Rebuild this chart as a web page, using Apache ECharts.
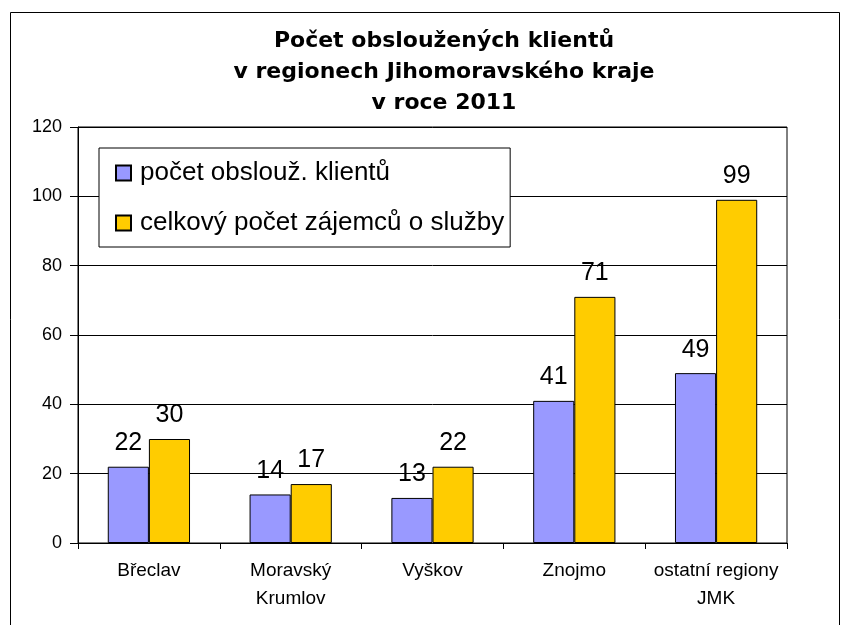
<!DOCTYPE html>
<html>
<head>
<meta charset="utf-8">
<script src="https://cdn.jsdelivr.net/npm/echarts@6/dist/echarts.min.js"></script>
<style>
html,body{margin:0;padding:0;background:#fff;}
#chart{width:843px;height:625px;}
</style>
</head>
<body>
<div id="chart"></div>
<script>
const categories = ["Břeclav", "Moravský\nKrumlov", "Vyškov", "Znojmo", "ostatní regiony\nJMK"];
const servedClients = [22, 14, 13, 41, 49];
const totalApplicants = [30, 17, 22, 71, 99];
const seriesNames = ["počet obslouž. klientů", "celkový počet zájemců o služby"];
const titleText = "Počet obsloužených klientů\nv regionech Jihomoravského kraje\nv roce 2011";
const yMin = 0, yMax = 120, yStep = 20;

const FONT = "'Liberation Sans', Arial, sans-serif";
const chart = echarts.init(document.getElementById('chart'), null, {renderer: 'canvas'});

const labelStyle = {
  show: true, position: 'top', distance: 11,
  color: '#000', fontSize: 25, fontFamily: FONT
};

chart.setOption({
  backgroundColor: '#fff',
  animation: false,
  graphic: [{
    type: 'rect', left: 8, top: 10, silent: true, z: -1,
    shape: {width: 829, height: 650},
    style: {fill: 'none', stroke: '#000', lineWidth: 1}
  }],
  title: {
    text: titleText, left: 439, top: 21, textAlign: 'center',
    textStyle: {fontFamily: "'DejaVu Sans', sans-serif", fontWeight: 'bold', fontSize: 22, lineHeight: 31, color: '#000'}
  },
  legend: {
    orient: 'vertical', left: 99, top: 148,
    backgroundColor: '#fff', borderColor: '#000', borderWidth: 1,
    padding: [12, 6, 11, 16],
    itemWidth: 15, itemHeight: 15, itemGap: 24,
    icon: 'rect',
    textStyle: {fontFamily: FONT, fontSize: 26, color: '#000', padding: [0, 0, 0, 4]},
    data: seriesNames
  },
  grid: {
    left: 78, right: 56, top: 127, bottom: 82,
    show: true, borderColor: '#000', borderWidth: 1, backgroundColor: 'transparent'
  },
  xAxis: {
    type: 'category', data: categories,
    axisLine: {lineStyle: {color: '#000', width: 1}},
    axisTick: {show: true, length: 6, lineStyle: {color: '#000'}},
    axisLabel: {interval: 0, color: '#000', fontFamily: FONT, fontSize: 19, lineHeight: 28, margin: 14}
  },
  yAxis: {
    type: 'value', min: yMin, max: yMax, interval: yStep,
    axisLine: {show: true, lineStyle: {color: '#000', width: 1}},
    axisTick: {show: true, length: 8, lineStyle: {color: '#000'}},
    axisLabel: {color: '#000', fontFamily: FONT, fontSize: 18, margin: 16},
    splitLine: {show: true, lineStyle: {color: '#000', width: 1}}
  },
  series: [
    {
      name: seriesNames[0], type: 'bar', data: servedClients,
      barGap: '0%', barCategoryGap: '42%',
      itemStyle: {color: '#9999FF', borderColor: '#000', borderWidth: 1},
      label: labelStyle
    },
    {
      name: seriesNames[1], type: 'bar', data: totalApplicants,
      barGap: '0%', barCategoryGap: '42%',
      itemStyle: {color: '#FFCC00', borderColor: '#000', borderWidth: 1},
      label: labelStyle
    }
  ]
});
</script>
</body>
</html>
